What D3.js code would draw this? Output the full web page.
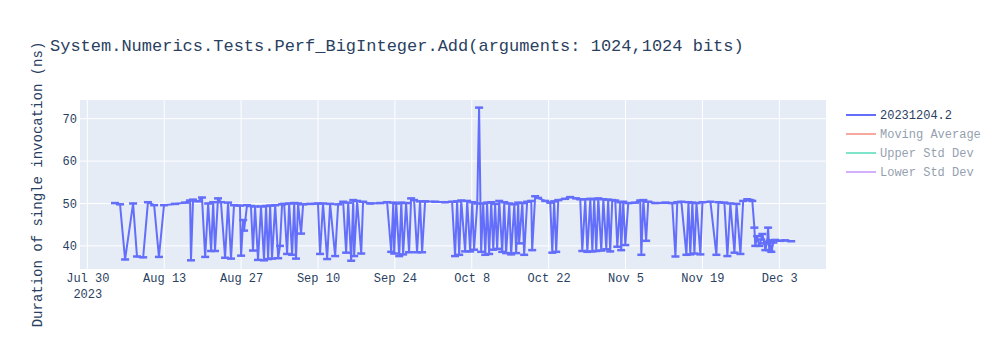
<!DOCTYPE html>
<html>
<head>
<meta charset="utf-8">
<script src="https://cdn.jsdelivr.net/npm/d3@7"></script>
<style>
    body { margin: 0; background: #fff; }
    svg text { font-family: "Courier New", "Liberation Mono", monospace; fill: #2a3f5f; }
</style>
</head>
<body>
<script>
// benchmark runs (date of run, duration in ns)
const runDates = [
    "08-04T01", "08-04T23", "08-05T21", "08-07T08", "08-08T01", "08-09T04", "08-10T01", "08-11T04", "08-12T01", "08-12T23",
    "08-14T23", "08-16T19", "08-17T17", "08-17T21", "08-18T06", "08-19T04", "08-19T21", "08-20T11", "08-21T00", "08-21T13",
    "08-21T22", "08-22T06", "08-22T19", "08-23T08", "08-24T02", "08-24T15", "08-25T04", "08-25T17", "08-26T19", "08-27T00",
    "08-27T09", "08-27T13", "08-28T02", "08-28T19", "08-29T04", "08-29T13", "08-30T02", "08-30T15", "08-31T04", "08-31T13",
    "08-31T22", "09-01T07", "09-01T15", "09-02T05", "09-02T18", "09-03T02", "09-03T11", "09-03T20", "09-04T09", "09-04T18",
    "09-05T07", "09-05T16", "09-06T00", "09-06T09", "09-06T22", "09-07T07", "09-08T14", "09-10T00", "09-10T09", "09-10T22",
    "09-11T16", "09-12T05", "09-13T03", "09-13T16", "09-14T14", "09-15T03", "09-15T12", "09-16T01", "09-16T10", "09-16T14",
    "09-17T03", "09-17T21", "09-18T05", "09-19T12", "09-21T08", "09-22T14", "09-23T08", "09-23T17", "09-23T21", "09-24T06",
    "09-24T19", "09-25T04", "09-25T12", "09-26T01", "09-26T14", "09-26T23", "09-27T12", "09-28T01", "09-28T14", "09-28T23",
    "09-29T12", "10-01T08", "10-03T03", "10-04T10", "10-04T23", "10-05T08", "10-05T17", "10-06T02", "10-06T19", "10-07T04",
    "10-07T17", "10-08T02", "10-08T10", "10-09T00", "10-09T08", "10-09T17", "10-10T02", "10-10T11", "10-10T19", "10-11T04",
    "10-11T13", "10-11T22", "10-12T06", "10-12T15", "10-13T00", "10-13T13", "10-13T22", "10-14T06", "10-14T20", "10-15T04",
    "10-15T18", "10-16T02", "10-16T11", "10-16T15", "10-17T05", "10-17T13", "10-18T02", "10-18T20", "10-19T00", "10-19T13",
    "10-20T02", "10-21T09", "10-22T07", "10-22T16", "10-23T00", "10-23T09", "10-23T18", "10-25T00", "10-25T22", "10-27T00",
    "10-27T18", "10-28T03", "10-28T16", "10-29T01", "10-29T14", "10-29T23", "10-30T07", "10-30T16", "10-31T01", "10-31T14",
    "10-31T23", "11-01T12", "11-01T20", "11-02T05", "11-02T14", "11-03T03", "11-03T12", "11-04T01", "11-04T05", "11-04T14",
    "11-04T23", "11-05T12", "11-06T18", "11-07T16", "11-07T21", "11-08T06", "11-08T18", "11-09T03", "11-10T10", "11-12T06",
    "11-13T12", "11-14T02", "11-14T10", "11-15T04", "11-16T02", "11-16T11", "11-16T19", "11-17T04", "11-17T13", "11-17T22",
    "11-18T15", "11-19T00", "11-20T11", "11-21T13", "11-21T22", "11-23T00", "11-23T13", "11-24T02", "11-24T20", "11-25T05",
    "11-25T22", "11-26T10", "11-27T04", "11-27T17", "11-28T02", "11-28T11", "11-28T15", "11-28T23", "11-29T08", "11-29T17",
    "11-29T22", "11-30T06", "11-30T11", "11-30T19", "11-30T23", "12-01T04", "12-01T08", "12-01T13", "12-01T22", "12-02T06",
    "12-03T04", "12-04T02", "12-05T04"
];
const durations = [
    50.1, 49.8, 36.8, 50.0, 37.5, 37.3, 50.3, 49.6, 37.4, 49.6,
    49.9, 50.2, 50.7, 36.6, 50.9, 50.5, 51.4, 37.4, 50.0, 38.8,
    50.3, 38.8, 51.2, 50.3, 37.2, 50.2, 37.0, 49.6, 49.5, 37.7,
    46.1, 43.6, 49.6, 49.4, 38.9, 49.3, 36.7, 49.3, 36.6, 49.4,
    36.9, 49.5, 37.0, 49.6, 37.1, 40.0, 49.8, 49.9, 38.1, 50.0,
    37.9, 50.1, 37.0, 50.0, 42.9, 49.8, 49.9, 50.0, 38.1, 50.0,
    36.9, 49.9, 37.6, 49.8, 50.4, 38.4, 50.2, 36.5, 50.8, 37.6,
    50.6, 38.2, 50.4, 50.0, 50.1, 50.3, 38.6, 50.2, 38.2, 50.0,
    37.6, 50.2, 38.0, 50.1, 38.5, 51.2, 50.8, 38.5, 50.5, 38.5,
    50.5, 50.4, 50.3, 50.4, 37.6, 50.5, 37.9, 50.7, 38.7, 50.6,
    38.7, 50.3, 39.1, 50.0, 72.6, 38.6, 50.0, 37.9, 50.2, 38.1,
    50.3, 39.1, 49.9, 39.3, 50.6, 38.6, 50.3, 38.3, 50.0, 38.0,
    49.8, 38.3, 50.2, 40.6, 50.1, 37.9, 50.4, 50.6, 39.0, 51.7,
    51.3, 50.6, 50.2, 38.4, 50.5, 38.6, 50.8, 51.1, 51.5, 51.2,
    51.0, 38.8, 51.0, 38.6, 51.1, 38.7, 51.0, 38.8, 51.2, 38.9,
    51.0, 39.2, 50.9, 38.7, 50.8, 50.7, 39.8, 50.3, 39.0, 50.4,
    40.2, 50.1, 50.2, 50.7, 37.9, 50.8, 41.2, 50.4, 50.1, 50.2,
    50.1, 37.5, 50.3, 50.4, 37.9, 50.3, 38.0, 50.2, 38.2, 50.1,
    38.0, 50.3, 50.4, 37.9, 50.3, 50.2, 37.6, 50.0, 38.4, 49.9,
    38.1, 50.6, 51.0, 50.8, 50.6, 44.3, 40.0, 42.3, 40.0, 41.5,
    42.8, 40.6, 39.0, 41.0, 44.3, 39.0, 41.3, 38.6, 40.8, 41.4,
    41.2, 41.3, 41.1
];

const xTicks = ["2023-07-30", "2023-08-13", "2023-08-27", "2023-09-10", "2023-09-24",
    "2023-10-08", "2023-10-22", "2023-11-05", "2023-11-19", "2023-12-03"];
const yTicks = [40, 50, 60, 70];

const legendNames = ["20231204.2", "Moving Average", "Upper Std Dev", "Lower Std Dev"];
const legendColors = ["#636efa", "#EF553B", "#00cc96", "#ab63fa"];
const legendHidden = [false, true, true, true];

const titleText = "System.Numerics.Tests.Perf_BigInteger.Add(arguments: 1024,1024 bits)";
const yTitle = "Duration of single invocation (ns)";

const W = 1000, H = 350;
const margin = { top: 100, right: 174, bottom: 81, left: 80 };
const width = W - margin.left - margin.right,
    height = H - margin.top - margin.bottom;

const parseRun = d3.timeParse("%Y-%m-%dT%H");
const parseDay = d3.timeParse("%Y-%m-%d");

const data = runDates.map((d, i) => ({ date: parseRun("2023-" + d), value: durations[i] }));

const x = d3.scaleTime()
    .domain([parseRun("2023-07-28T16"), parseRun("2023-12-11T12")])
    .range([0, width]);
const y = d3.scaleLinear()
    .domain([34.55, 74.4])
    .range([height, 0]);

const svg = d3.select("body").append("svg")
    .attr("width", W)
    .attr("height", H);

svg.append("text")
    .attr("x", 50)
    .attr("y", 51)
    .style("font-size", "17px")
    .text(titleText);

const g = svg.append("g")
    .attr("transform", `translate(${margin.left},${margin.top})`);

g.append("rect")
    .attr("width", width)
    .attr("height", height)
    .attr("fill", "#E5ECF6");

// grid
g.selectAll(".ygrid").data(yTicks).enter().append("line")
    .attr("x1", 0).attr("x2", width)
    .attr("y1", d => y(d)).attr("y2", d => y(d))
    .attr("stroke", "#fff").attr("stroke-width", 1);
g.selectAll(".xgrid").data(xTicks.map(parseDay)).enter().append("line")
    .attr("y1", 0).attr("y2", height)
    .attr("x1", d => x(d)).attr("x2", d => x(d))
    .attr("stroke", "#fff").attr("stroke-width", 1);

// axes (labels only, plotly style)
const fmt = d3.timeFormat("%b %-d");
const xAxis = g.append("g")
    .attr("transform", `translate(0,${height})`)
    .call(d3.axisBottom(x).tickValues(xTicks.map(parseDay)).tickSize(0).tickPadding(0).tickFormat(fmt));
xAxis.select(".domain").remove();
xAxis.selectAll("text")
    .attr("y", 13)
    .attr("dy", 0)
    .style("font-size", "12px");
xAxis.select(".tick text")
    .append("tspan")
    .attr("x", 0)
    .attr("dy", 16)
    .text("2023");

const yAxis = g.append("g")
    .call(d3.axisLeft(y).tickValues(yTicks).tickSize(0).tickPadding(3));
yAxis.select(".domain").remove();
yAxis.selectAll("text").style("font-size", "12px");

svg.append("text")
    .attr("transform", `translate(42,${margin.top + height / 2}) rotate(-90)`)
    .attr("text-anchor", "middle")
    .style("font-size", "14px")
    .text(yTitle);

// series
const plot = g.append("g");
const line = d3.line()
    .x(d => x(d.date))
    .y(d => y(d.value));

plot.append("path")
    .datum(data)
    .attr("d", line)
    .attr("fill", "none")
    .attr("stroke", legendColors[0])
    .attr("stroke-width", 2)
    .attr("stroke-linejoin", "round");

// little error-bar caps on each run
plot.selectAll(".cap").data(data).enter().append("line")
    .attr("x1", d => x(d.date) - 4)
    .attr("x2", d => x(d.date) + 4)
    .attr("y1", d => y(d.value))
    .attr("y2", d => y(d.value))
    .attr("stroke", legendColors[0])
    .attr("stroke-width", 2.5);

// legend
const legend = svg.selectAll(".legend").data(legendNames).enter().append("g")
    .attr("transform", (d, i) => `translate(846,${115 + i * 19})`)
    .style("opacity", (d, i) => legendHidden[i] ? 0.5 : 1);
legend.append("line")
    .attr("x1", 0).attr("x2", 30)
    .attr("stroke", (d, i) => legendColors[i])
    .attr("stroke-width", 2);
legend.append("text")
    .attr("x", 34)
    .attr("dy", "0.35em")
    .style("font-size", "12px")
    .text(d => d);
</script>
</body>
</html>
